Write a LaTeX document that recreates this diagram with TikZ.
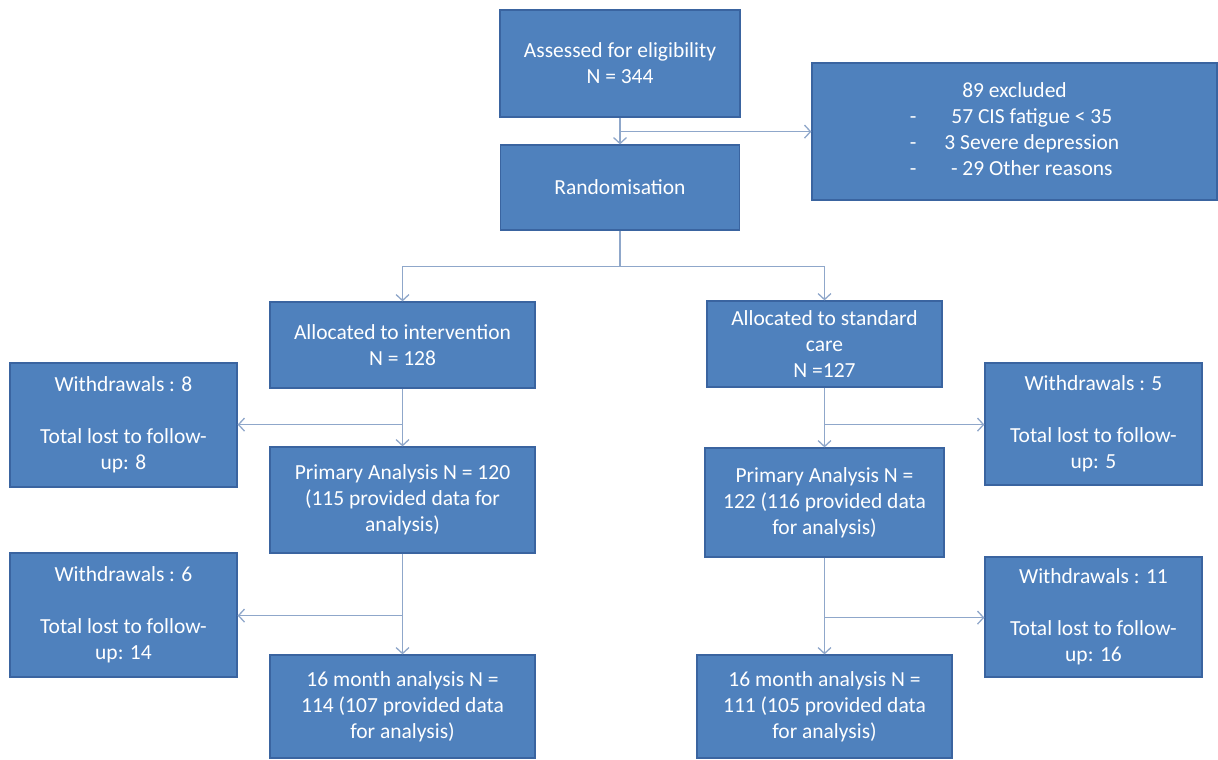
\documentclass[tikz,border=0pt]{standalone}
\usepackage{fontspec}
\setmainfont{Carlito}
\usetikzlibrary{arrows.meta,calc,positioning}
\definecolor{boxfill}{HTML}{4F81BD}
\definecolor{boxedge}{HTML}{3A64A0}
\definecolor{linkgray}{HTML}{8FA7CA}

\begin{document}
\begin{tikzpicture}[x=1pt,y=-1pt,
  blockbox/.style={draw=boxedge,fill=boxfill,line width=1.2pt,text=white,align=center,inner sep=2pt,font=\fontsize{21.5}{26}\selectfont},
  link/.style={draw=linkgray,line width=1.3pt},
  linkarrow/.style={link,-{Straight Barb[length=6pt,width=13pt]}}]
\useasboundingbox (0,0) rectangle (1218,760);
\node[blockbox,minimum width=240pt,minimum height=107pt] (assess) at (620,63.5) {Assessed for eligibility\\N = 344};
\node[blockbox,minimum width=405pt,minimum height=137pt] (excl) at (1014.5,131.5) {\raisebox{5pt}{\begin{tabular}{@{}c@{\hspace{28pt}}c@{}}\multicolumn{2}{c}{89 excluded}\\-&57 CIS fatigue < 35\\-&3 Severe depression\\-&- 29 Other reasons\end{tabular}}};
\node[blockbox,minimum width=239pt,minimum height=85pt] (rand) at (620,187.5) {Randomisation};
% intervention arm
\node[blockbox,minimum width=265pt,minimum height=86pt] (interv) at (402.5,345) {Allocated to intervention\\N = 128};
\node[blockbox,minimum width=265pt,minimum height=106pt] (prim1) at (402.5,500) {Primary Analysis N = 120\\(115 provided data for\\analysis)};
\node[blockbox,minimum width=265pt,minimum height=103pt] (month1) at (402.5,706.5) {16 month analysis N =\\114 (107 provided data\\for analysis)};
\node[blockbox,minimum width=227pt,minimum height=124pt] (wd8) at (123.5,425) {Withdrawals : 8\\[26pt]Total lost to follow-\\up: 8};
\node[blockbox,minimum width=227pt,minimum height=124pt] (wd6) at (123.5,615) {Withdrawals : 6\\[26pt]Total lost to follow-\\up: 14};
% standard care arm
\node[blockbox,minimum width=235pt,minimum height=86pt] (stdcare) at (824.5,344) {Allocated to standard\\care\\N =127};
\node[blockbox,minimum width=239pt,minimum height=109pt] (prim2) at (824.5,502.5) {Primary Analysis N =\\122 (116 provided data\\for analysis)};
\node[blockbox,minimum width=255pt,minimum height=103pt] (month2) at (824.5,706.5) {16 month analysis N =\\111 (105 provided data\\for analysis)};
\node[blockbox,minimum width=217pt,minimum height=122pt] (wd5) at (1093.5,424) {Withdrawals : 5\\[26pt]Total lost to follow-\\up: 5};
\node[blockbox,minimum width=217pt,minimum height=120pt] (wd11) at (1093.5,617) {Withdrawals : 11\\[26pt]Total lost to follow-\\up: 16};

% connectors
\draw[linkarrow] (assess) -- (rand);
\coordinate (split0) at ($(assess.south)+(0,14)$);
\draw[linkarrow] (split0) -- (split0 -| excl.west);
\coordinate (split1) at ($(rand.south)+(0,36)$);
\draw[link] (rand.south) -- (split1);
\draw[linkarrow] (split1) -| (interv.north);
\draw[linkarrow] (split1) -| (stdcare.north);
\draw[linkarrow] (interv) -- (prim1);
\coordinate (split2) at ($(interv.south)+(0,36)$);
\draw[linkarrow] (split2) -- (split2 -| wd8.east);
\draw[linkarrow] (prim1) -- (month1);
\coordinate (split3) at ($(prim1.south)+(0,62)$);
\draw[linkarrow] (split3) -- (split3 -| wd6.east);
\draw[linkarrow] (stdcare) -- (prim2);
\coordinate (split4) at ($(stdcare.south)+(0,37)$);
\draw[linkarrow] (split4) -- (split4 -| wd5.west);
\draw[linkarrow] (prim2) -- (month2);
\coordinate (split5) at ($(prim2.south)+(0,60)$);
\draw[linkarrow] (split5) -- (split5 -| wd11.west);
\end{tikzpicture}
\end{document}
